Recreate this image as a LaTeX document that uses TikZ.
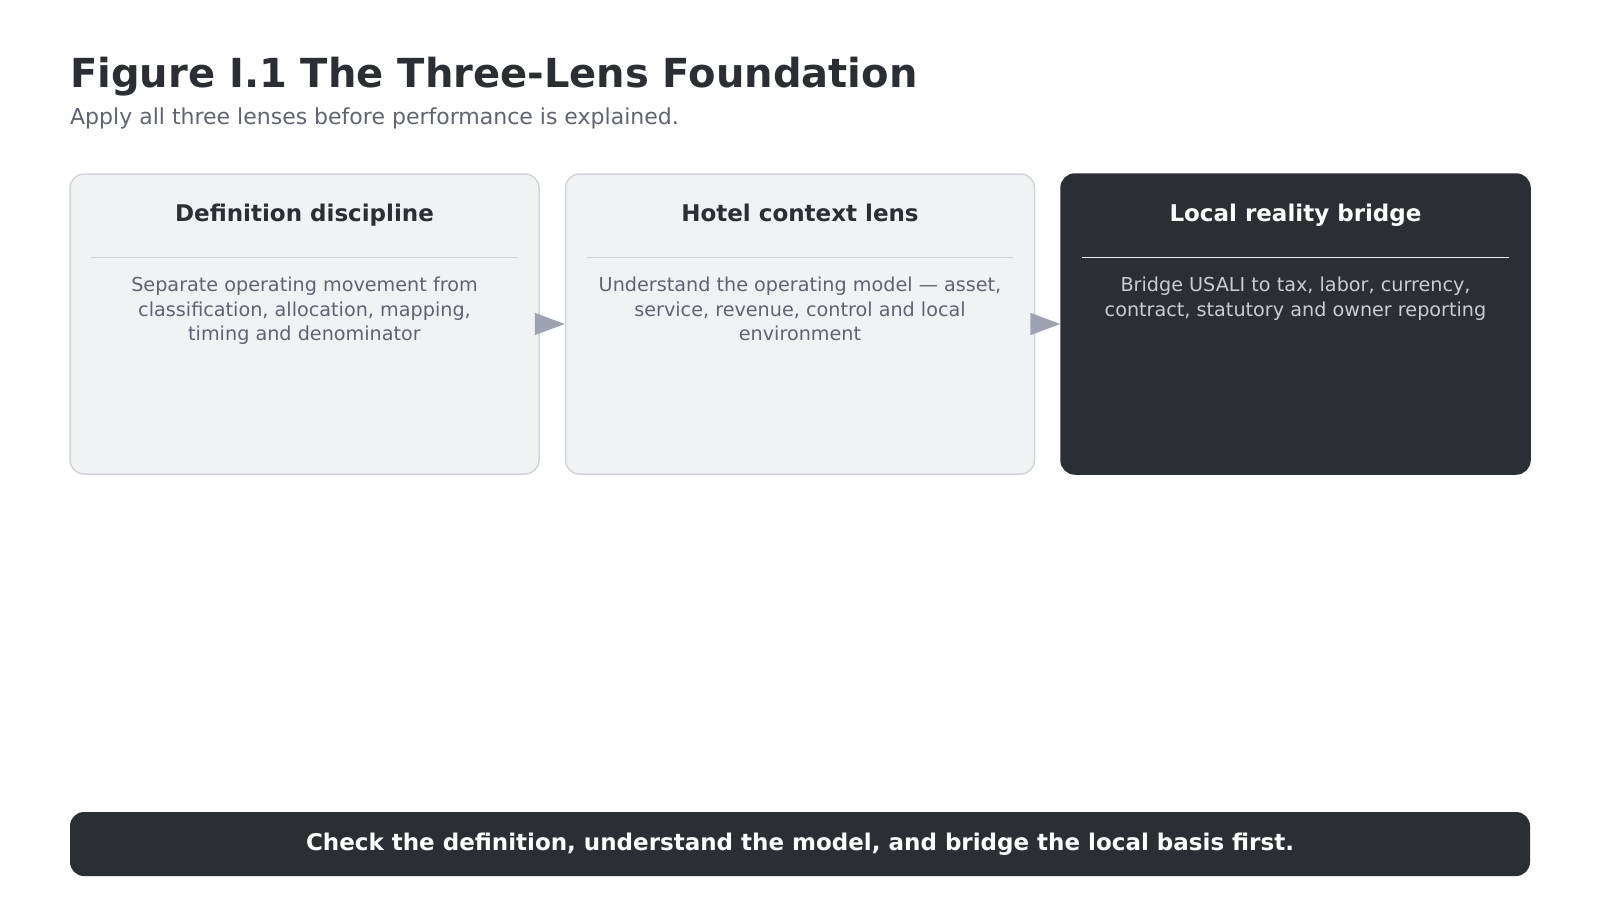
\documentclass[tikz,border=0pt]{standalone}
\usepackage{fontspec}
\setmainfont{DejaVu Sans}
\usetikzlibrary{arrows.meta}
\definecolor{ink}{HTML}{2B2E33}
\definecolor{slate}{HTML}{5F6470}
\definecolor{panel}{HTML}{F1F2F4}
\definecolor{rim}{HTML}{D1D5DB}
\definecolor{mist}{HTML}{C9CCD1}
\definecolor{pointer}{HTML}{9CA3AF}
\begin{document}
\begin{tikzpicture}[x=1pt,y=-1pt,
    lens/.style={draw=rim,line width=1.5pt,fill=panel,rounded corners=14pt,
      minimum width=469pt,minimum height=300pt,inner sep=0pt},
    darklens/.style={lens,draw=ink,fill=ink},
    head/.style={font=\bfseries\fontsize{23}{27}\selectfont,text=ink,anchor=base,inner sep=0pt},
    body/.style={font=\fontsize{19.2}{24.6}\selectfont,text=slate,align=center,anchor=north,inner sep=0pt},
    rule/.style={draw=rim,line width=1.5pt},
    link/.style={draw=pointer,line width=1.5pt,-{Triangle[length=30pt,width=22pt]}}]
  \useasboundingbox (0,0) rectangle (1600,900);
  % title
  \node[anchor=base west,inner sep=0pt,text=ink,font=\bfseries\fontsize{40}{46}\selectfont]
    (title) at (70,87) {Figure I.1 The Three-Lens Foundation};
  \node[anchor=base west,inner sep=0pt,text=slate,font=\fontsize{22}{26}\selectfont]
    (subtitle) at (70,124) {Apply all three lenses before performance is explained.};
  % lenses
  \node[lens] (definition) at (304.5,324) {};
  \node[lens] (context) at (800,324) {};
  \node[darklens] (bridge) at (1295.5,324) {};
  \node[head] (definitionhead) at (304.5,221) {Definition discipline};
  \node[head] (contexthead) at (800,221) {Hotel context lens};
  \node[head,text=white] (bridgehead) at (1295.5,221) {Local reality bridge};
  \begin{scope}[rule]
    \draw ([xshift=22pt,yshift=-84pt]definition.north west) -- ([xshift=-22pt,yshift=-84pt]definition.north east);
    \draw ([xshift=22pt,yshift=-84pt]context.north west) -- ([xshift=-22pt,yshift=-84pt]context.north east);
    \draw[draw=white!92!ink] ([xshift=22pt,yshift=-84pt]bridge.north west) -- ([xshift=-22pt,yshift=-84pt]bridge.north east);
  \end{scope}
  \node[body] (definitionbody) at (304.5,277)
    {Separate operating movement from\\classification, allocation, mapping,\\timing and denominator};
  \node[body] (contextbody) at (800,277)
    {Understand the operating model — asset,\\service, revenue, control and local\\environment};
  \node[body,text=mist] (bridgebody) at (1295.5,277)
    {Bridge USALI to tax, labor, currency,\\contract, statutory and owner reporting};
  % arrows
  \draw[link] (definition.east) -- (context.west);
  \draw[link] (context.east) -- (bridge.west);
  % takeaway
  \node[fill=ink,rounded corners=14pt,minimum width=1460pt,minimum height=64pt,inner sep=0pt,
    text=white,font=\bfseries\fontsize{23}{27}\selectfont] (takeaway) at (800,844)
    {Check the definition, understand the model, and bridge the local basis first.};
\end{tikzpicture}
\end{document}
